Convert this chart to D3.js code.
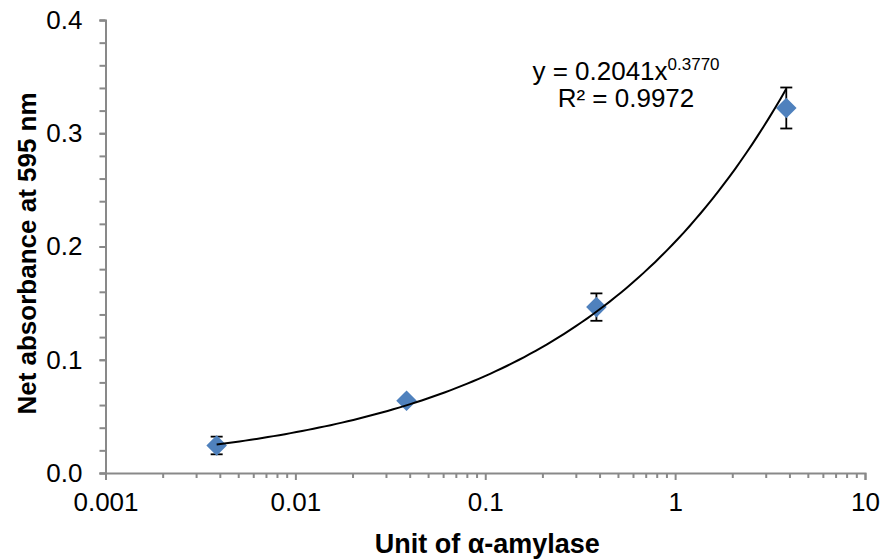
<!DOCTYPE html>
<html>
<head>
<meta charset="utf-8">
<script src="https://cdn.jsdelivr.net/npm/d3@7"></script>
<style>
  body { margin: 0; background: #fff; }
  svg { display: block; font-family: "Liberation Sans", Arial, sans-serif; }
</style>
</head>
<body>
<div id="chart"></div>
<script>
// data
const units = [0.00385, 0.0385, 0.385, 3.85];
const absorbance = [0.0243, 0.0638, 0.1465, 0.3223];
const errors = [0.0078, 0.002, 0.0121, 0.0181];
const xTicks = [0.001, 0.01, 0.1, 1, 10];
const yTicks = [0, 0.1, 0.2, 0.3, 0.4];
// power trendline y = a * x^b
const trendA = 0.2041;
const trendB = 0.3770;

const width = 885, height = 560;
const margin = { top: 20, right: 20, bottom: 87, left: 105.5 };

const svg = d3.select("#chart").append("svg")
    .attr("width", width)
    .attr("height", height);

const x = d3.scaleLog()
    .domain([0.001, 10])
    .range([margin.left, width - margin.right]);

const y = d3.scaleLinear()
    .domain([0, 0.4])
    .range([height - margin.bottom, margin.top]);

const axisColor = "#898989";

// x axis: minor ticks 2..9 of each decade
const xMinor = [];
xTicks.slice(0, -1).forEach(t => {
    for (let k = 2; k <= 9; k++) xMinor.push(t * k);
});

const xAxis = svg.append("g")
    .attr("transform", `translate(0,${y(0)})`);

xAxis.append("g")
    .call(d3.axisBottom(x).tickValues(xMinor).tickSize(5).tickFormat(""))
    .call(g => g.select(".domain").remove());

xAxis.append("g")
    .call(d3.axisBottom(x).tickValues(xTicks).tickSize(7).tickPadding(13)
        .tickFormat(d => String(d)))
    .call(g => g.selectAll("text").attr("font-size", 26).attr("fill", "#000")
        .attr("font-family", "Liberation Sans, Arial, sans-serif"));

// y axis with minor ticks every 0.02
const yMinor = d3.range(0, 0.4001, 0.02).map(v => +v.toFixed(2));

const yAxis = svg.append("g")
    .attr("transform", `translate(${x(0.001)},0)`);

yAxis.append("g")
    .call(d3.axisLeft(y).tickValues(yMinor).tickSize(6).tickFormat(""))
    .call(g => g.select(".domain").remove());

yAxis.append("g")
    .call(d3.axisLeft(y).tickValues(yTicks).tickSize(6).tickPadding(17)
        .tickFormat(d3.format(".1f")))
    .call(g => g.selectAll("text").attr("font-size", 26).attr("fill", "#000")
        .attr("font-family", "Liberation Sans, Arial, sans-serif"));

svg.selectAll(".domain, .tick line")
    .attr("stroke", axisColor)
    .attr("stroke-width", 2);

// error bars
const points = units.map((u, i) => ({ x: u, y: absorbance[i], e: errors[i] }));

const bars = svg.append("g")
    .attr("stroke", "#000")
    .attr("stroke-width", 1.8);

points.forEach(d => {
    const cx = x(d.x);
    bars.append("line")
        .attr("x1", cx).attr("x2", cx)
        .attr("y1", y(d.y + d.e)).attr("y2", y(d.y - d.e));
    [d.y + d.e, d.y - d.e].forEach(v => {
        bars.append("line")
            .attr("x1", cx - 6).attr("x2", cx + 6)
            .attr("y1", y(v)).attr("y2", y(v));
    });
});

// diamond markers
svg.append("g").selectAll("path")
    .data(points)
    .enter()
    .append("path")
    .attr("transform", d => `translate(${x(d.x)},${y(d.y)})`)
    .attr("d", d3.symbol(d3.symbolDiamond2, 270))
    .attr("fill", "#4F81BD");

// trendline drawn over the markers
const lx0 = Math.log10(d3.min(units)), lx1 = Math.log10(d3.max(units));
const trend = d3.range(0, 101).map(i => {
    const u = Math.pow(10, lx0 + (lx1 - lx0) * i / 100);
    return [u, trendA * Math.pow(u, trendB)];
});

svg.append("path")
    .datum(trend)
    .attr("d", d3.line().x(d => x(d[0])).y(d => y(d[1])))
    .attr("fill", "none")
    .attr("stroke", "#000")
    .attr("stroke-width", 2);

// equation label
const eq = svg.append("text")
    .attr("x", 626)
    .attr("y", 80)
    .attr("text-anchor", "middle")
    .attr("font-size", 26);
eq.append("tspan").text(`y = ${trendA.toFixed(4)}x`);
eq.append("tspan").attr("dy", -10).attr("font-size", 17).text(trendB.toFixed(4));

svg.append("text")
    .attr("x", 626)
    .attr("y", 107)
    .attr("text-anchor", "middle")
    .attr("font-size", 26)
    .text("R² = 0.9972");

// axis titles
svg.append("text")
    .attr("x", (x.range()[0] + x.range()[1]) / 2 + 2)
    .attr("y", 553)
    .attr("text-anchor", "middle")
    .attr("font-size", 27)
    .attr("font-weight", "bold")
    .text("Unit of α-amylase");

svg.append("text")
    .attr("transform", `translate(36,${(y.range()[0] + y.range()[1]) / 2 + 7}) rotate(-90)`)
    .attr("text-anchor", "middle")
    .attr("font-size", 26)
    .attr("font-weight", "bold")
    .text("Net absorbance at 595 nm");
</script>
</body>
</html>
